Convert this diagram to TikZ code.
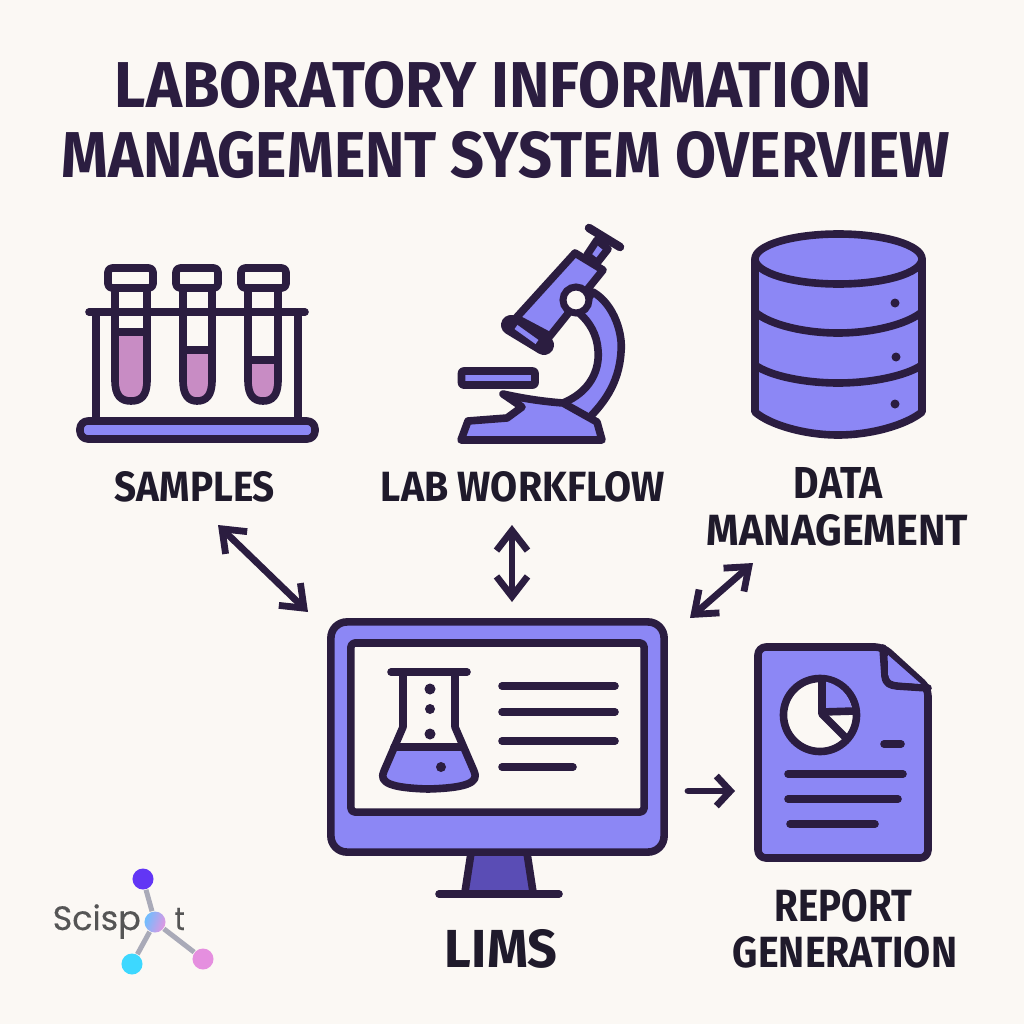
\documentclass[tikz,border=0pt]{standalone}
\usepackage{fontspec}
\setmainfont{Fira Sans}
\newfontfamily\logofont[FakeBold=0.4]{Poppins}
\usetikzlibrary{arrows.meta}
\definecolor{bgc}{HTML}{FBF8F4}
\definecolor{ink}{HTML}{2B1D40}
\definecolor{txt}{HTML}{1F1A2B}
\definecolor{vio}{HTML}{8C87F5}
\definecolor{pnk}{HTML}{C88CC4}
\definecolor{stnd}{HTML}{5A4DB5}
\definecolor{lgrey}{HTML}{A9AAB8}
\definecolor{ltxt}{HTML}{555555}
\tikzset{
 outl/.style={draw=ink,line width=.076cm,line join=round,line cap=round},
 vfill/.style={outl,fill=vio},
 bfill/.style={outl,fill=bgc},
 dotk/.style={circle,fill=ink,inner sep=0pt,minimum size=#1*.01cm},
 biarrow/.style={draw=ink,line width=.068cm,line cap=round,line join=round,{Straight Barb[length=.2cm,width=.31cm,line width=.068cm]}-{Straight Barb[length=.2cm,width=.31cm,line width=.068cm]}},
 onearrow/.style={draw=ink,line width=.068cm,line cap=round,line join=round,-{Straight Barb[length=.14cm,width=.3cm,line width=.068cm]}},
 lab/.style={inner sep=0pt,text=txt},
 ball/.style={circle,inner sep=0pt,minimum size=.21cm},
 stick/.style={draw=lgrey,line width=.05cm},
}
\newcommand\fitlab[3]{\resizebox{#1cm}{#2cm}{\textbf{#3}}}
\newcommand\testtube[6]{%
 \fill[pnk] (#1,#5) -- (#1,380) .. controls (#1,396) and (#1+6,401) .. (#6,401) .. controls (#2-6,401) and (#2,396) .. (#2,380) -- (#2,#5) -- cycle;
 \draw[outl] (#1,#5) -- (#2,#5);
 \draw[outl] (#1,288) -- (#1,380) .. controls (#1,396) and (#1+6,401) .. (#6,401) .. controls (#2-6,401) and (#2,396) .. (#2,380) -- (#2,288);
 \draw[outl,rounded corners=.04cm] (#3,268) rectangle (#4,288);
}
\begin{document}
\begin{tikzpicture}[x=.01cm,y=-.01cm]
\useasboundingbox (0,0) rectangle (1024,1024);
\fill[bgc] (0,0) rectangle (1024,1024);
% title
\node[lab,text=ink] (title1) at (493.5,85) {\fitlab{7.57}{.46}{LABORATORY INFORMATION}};
\node[lab,text=ink] (title2) at (506,155) {\fitlab{8.88}{.46}{MANAGEMENT SYSTEM OVERVIEW}};
% test tubes
\testtube{115}{147}{108}{153}{332}{131}
\testtube{183}{212}{176}{218}{350}{197}
\testtube{248}{278}{241}{286}{360}{263}
\draw[outl] (96,314) -- (96,420);
\draw[outl] (298,314) -- (298,420);
\draw[outl] (89,312) -- (305,312);
\draw[vfill,rounded corners=.08cm] (80,421) rectangle (315,439);
% microscope
\draw[vfill] (593,292) .. controls (615,305) and (623,335) .. (621,352) .. controls (619,385) and (602,405) .. (587,420) -- (563,403) .. controls (590,392) and (600,370) .. (598,350) .. controls (597,335) and (590,322) .. (578,312) -- cycle;
\draw[vfill] (503,394) .. controls (530,400) and (550,402) .. (563,403) -- (597,422) -- (602,440) -- (461,440) -- (468,421) -- (507,418) -- (522,407) -- cycle;
\draw[vfill] (597,240) -- (608,249) -- (597,263) -- (587,255) -- cycle;
\draw[outl,line width=.085cm] (589,228) -- (620,247);
\draw[vfill] (575,253) -- (603,270) -- (550,336) -- (516,318) -- cycle;
\draw[ink,line width=.2cm,line cap=round] (511,325) -- (544,345);
\draw[vio,line width=.05cm] (516,327) -- (537,342);
\node[circle,draw=ink,line width=.07cm,fill=bgc,minimum size=.26cm,inner sep=0pt] (ring) at (576,300) {};
\draw[vfill,rounded corners=.02cm] (461.5,371) rectangle (535,385);
% database
\path[vfill] (755,259) -- (755,412) .. controls (770,425) and (805,435) .. (838,435) .. controls (871,435) and (906,425) .. (922,412) -- (922,259) -- cycle;
\draw[outl] (755,312) .. controls (770,325) and (805,333) .. (838,333) .. controls (871,333) and (906,325) .. (922,312);
\draw[outl] (755,365) .. controls (770,376) and (805,383) .. (838,383) .. controls (871,383) and (906,376) .. (922,365);
\draw[vfill] (838.5,259) ellipse [x radius=83.5,y radius=25];
\node[dotk=9] (db1) at (895,303) {};
\node[dotk=9] (db2) at (896,357) {};
\node[dotk=9] (db3) at (895,404) {};
% labels
\node[lab] (samples) at (195,487) {\fitlab{1.60}{.30}{SAMPLES}};
\node[lab] (workflow) at (523,487) {\fitlab{2.84}{.30}{LAB WORKFLOW}};
\node[lab] (data) at (838.5,483) {\fitlab{.89}{.31}{DATA}};
\node[lab] (mgmt) at (837.5,530) {\fitlab{2.61}{.31}{MANAGEMENT}};
\node[lab] (lims) at (501,949) {\fitlab{1.12}{.38}{LIMS}};
\node[lab] (rep1) at (843.5,906) {\fitlab{1.37}{.32}{REPORT}};
\node[lab] (rep2) at (845,952.5) {\fitlab{2.24}{.31}{GENERATION}};
% monitor stand
\fill[stnd] (470,853) -- (528,853) -- (532,892) -- (467,892) -- cycle;
\draw[outl] (471,853) -- (465,892);
\draw[outl] (527,853) -- (533,892);
\draw[outl] (439,894) -- (559,894);
% monitor
\node[vfill,rounded corners=.16cm,minimum width=3.33cm,minimum height=2.30cm,inner sep=0pt] (monitor) at (497.5,737) {};
\node[bfill,rounded corners=.04cm,minimum width=2.93cm,minimum height=1.69cm,inner sep=0pt] (screen) at (497.5,727.5) {};
% flask
\fill[vio] (394,747) -- (463,747) -- (473,773) .. controls (475,783) and (465,786) .. (428,788) .. controls (392,786) and (381,783) .. (384,773) -- cycle;
\draw[outl] (394,747) -- (463,747);
\draw[outl] (403,672) -- (403,727) -- (384,771) .. controls (378,783) and (392,788) .. (428,789) .. controls (465,788) and (480,783) .. (474,771) -- (455,727) -- (455,672);
\draw[outl] (391,672) -- (467,672);
\node[dotk=11] (f1) at (430,689) {};
\node[dotk=10] (f2) at (430,709) {};
\node[dotk=11] (f3) at (430,734) {};
\node[dotk=10] (f4) at (441,767) {};
\draw[outl] (502,686) -- (615,686);
\draw[outl] (502,712) -- (615,712);
\draw[outl] (502,741) -- (615,741);
\draw[outl] (502,767) -- (573,767);
% report
\draw[vfill,rounded corners=.08cm] (758,647) -- (883,647) -- (928,688) -- (928,858) -- (758,858) -- cycle;
\draw[outl] (883,648) -- (885,676) .. controls (886,684) and (890,685) .. (897,686) -- (928,688);
\fill[vio] (888,655) -- (921,684) -- (897,682) .. controls (892,681) and (889,680) .. (888,674) -- cycle;
\node[circle,bfill,minimum size=.73cm,inner sep=0pt] (pie) at (820,715) {};
\fill[vio] (822,712) -- (822,681) .. controls (838,683) and (851,695) .. (852,711) -- cycle;
\draw[outl] (pie.center) ++(2,-36) -- (822,714) -- (846,738);
\draw[outl] (822,712) -- (855,711);
\draw[outl] (884,744) -- (901,744);
\draw[outl] (788,774) -- (903,774);
\draw[outl] (788,799) -- (898,799);
\draw[outl] (790,824) -- (875,824);
% arrows
\coordinate (a1) at (218,525);
\coordinate (a2) at (308,612);
\draw[biarrow] (a1) -- (a2);
\coordinate (b1) at (512,525);
\coordinate (b2) at (512,602);
\draw[biarrow] (b1) -- (b2);
\coordinate (c1) at (753,563);
\coordinate (c2) at (690,618);
\draw[biarrow] (c1) -- (c2);
\coordinate (d1) at (688,791);
\coordinate (d2) at (735,791);
\draw[onearrow] (d1) -- (d2);
% logo
\node[anchor=base west,inner sep=0pt,text=ltxt] (scisp) at (52,930) {\resizebox*{.88cm}{.345cm}{\logofont Scisp}};
\node[anchor=base west,inner sep=0pt,text=ltxt] (scit) at (174,930) {\resizebox*{.10cm}{.22cm}{\logofont t}};
\node[ball,fill=bgc] (lc) at (155,922) {};
\node[ball,fill={rgb,255:red,98;green,54;blue,245}] (lt) at (143,879) {};
\node[ball,fill={rgb,255:red,61;green,216;blue,255}] (ll) at (132,964) {};
\node[ball,fill={rgb,255:red,229;green,143;blue,223}] (lr) at (203,959) {};
\draw[stick] (lt) -- (lc);
\draw[stick] (ll) -- (lc);
\draw[stick] (lr) -- (lc);
\node[ball,shading=axis,left color={rgb,255:red,110;green,190;blue,255},right color={rgb,255:red,225;green,150;blue,225},shading angle=70] (lcc) at (155,922) {};
\end{tikzpicture}
\end{document}
